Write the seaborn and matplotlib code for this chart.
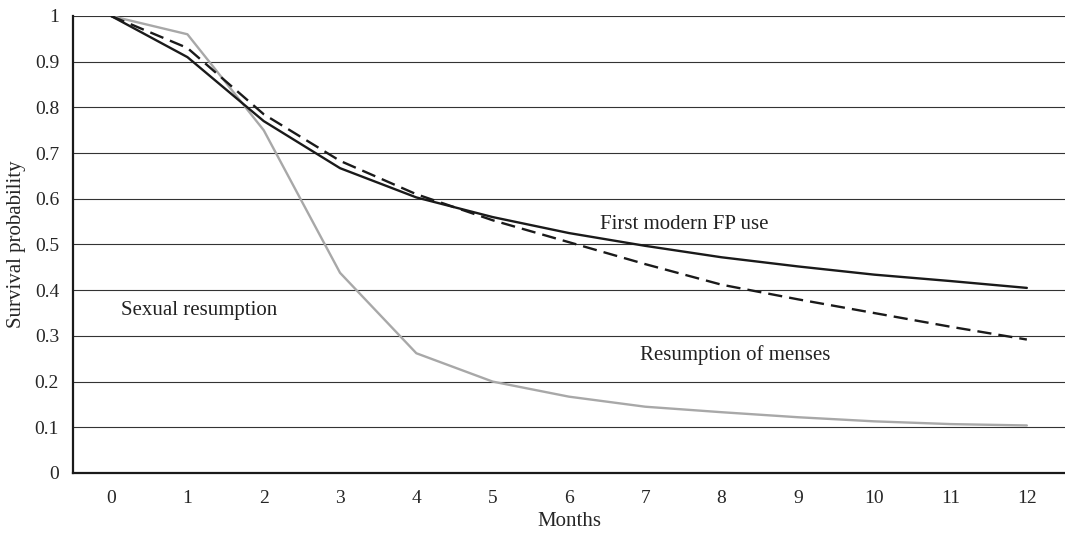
import matplotlib
matplotlib.use("Agg")
import matplotlib.pyplot as plt
import pandas as pd
import seaborn as sns

# data
months = list(range(13))
fp_use = [1.0, 0.91, 0.77, 0.667, 0.603, 0.56, 0.525, 0.497, 0.472, 0.452, 0.434, 0.42, 0.405]
menses = [1.0, 0.93, 0.785, 0.683, 0.61, 0.553, 0.505, 0.457, 0.412, 0.38, 0.35, 0.32, 0.292]
sexual = [1.0, 0.96, 0.75, 0.438, 0.262, 0.2, 0.167, 0.145, 0.133, 0.122, 0.113, 0.107, 0.104]
y_ticks = [0, 0.1, 0.2, 0.3, 0.4, 0.5, 0.6, 0.7, 0.8, 0.9, 1]
y_tick_labels = ["0", "0.1", "0.2", "0.3", "0.4", "0.5", "0.6", "0.7", "0.8", "0.9", "1"]

sns.set_style("white")
plt.rcParams['font.family'] = ['Liberation Serif', 'DejaVu Serif']

fig = plt.figure(figsize=(10.65, 5.33), dpi=100)
ax = fig.add_axes([0.0685, 0.1126, 0.9315, 0.8574])

# horizontal grid
for y in y_ticks[1:]:
    ax.axhline(y, color='#333333', lw=0.8, zorder=1)

df = pd.DataFrame({'month': months, 'fp': fp_use, 'menses': menses, 'sexual': sexual})
sns.lineplot(data=df, x='month', y='sexual', ax=ax, color='#a8a8a8', lw=1.7, zorder=3)
sns.lineplot(data=df, x='month', y='menses', ax=ax, color='#1a1a1a', lw=1.7,
             dashes=False, zorder=4).lines[-1].set_dashes([6, 3])
sns.lineplot(data=df, x='month', y='fp', ax=ax, color='#1a1a1a', lw=1.7, zorder=5)

ax.set_xlim(-0.5, 12.5)
ax.set_ylim(0, 1)
ax.set_xticks(months)
ax.set_yticks(y_ticks)
ax.set_yticklabels(y_tick_labels)
ax.tick_params(axis='x', direction='in', length=9, width=1.5, color='#1a1a1a',
               labelsize=14, pad=12)
ax.tick_params(axis='y', length=0, labelsize=14, pad=10)

for side in ['top', 'right']:
    ax.spines[side].set_visible(False)
for side in ['left', 'bottom']:
    ax.spines[side].set_color('#1a1a1a')
    ax.spines[side].set_linewidth(1.6)

ax.set_xlabel('Months', fontsize=15, labelpad=4)
ax.set_ylabel('Survival probability', fontsize=15, labelpad=6)

ax.text(6.4, 0.544, 'First modern FP use', fontsize=15, va='center', ha='left', color='#222222')
ax.text(6.93, 0.257, 'Resumption of menses', fontsize=15, va='center', ha='left', color='#222222')
ax.text(0.13, 0.355, 'Sexual resumption', fontsize=15, va='center', ha='left', color='#222222')

fig.savefig('out.png', dpi=100)
